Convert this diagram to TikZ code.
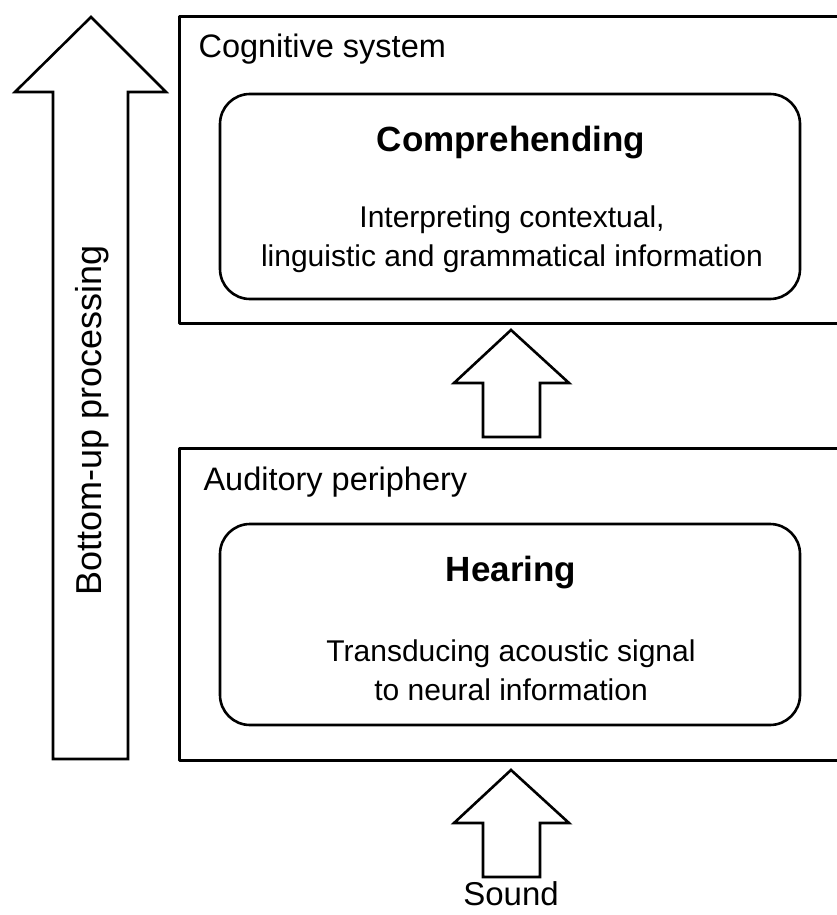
\documentclass[tikz,border=0pt]{standalone}
\usepackage{fontspec}
\setmainfont{Liberation Sans}
\usetikzlibrary{positioning}
\tikzset{
  frame/.style={draw, line width=2.6pt, anchor=north west, inner sep=0pt},
  stage/.style={draw, line width=2.6pt, rounded corners=30pt, inner sep=0pt},
  fat arrow/.style={draw, line width=2.6pt, line join=miter, fill=white},
  caption/.style={font=\fontsize{32.5}{38}\selectfont, anchor=west},
  title/.style={font=\fontsize{35}{42}\selectfont\bfseries},
  body/.style={font=\fontsize{30}{39}\selectfont, align=center}
}

\begin{document}
\begin{tikzpicture}[line cap=round, line join=round, x=1pt, y=-1pt]
	\useasboundingbox (0,0) rectangle (837,915);
	\clip (0,0) rectangle (837,915);
	% outer systems
	\node[frame, minimum width=720pt, minimum height=307pt] (cog) at (178,15) {};
	\node[frame, minimum width=720pt, minimum height=312pt] (aud) at (178,447) {};
	\node[caption] (coglabel) at (195,49) {Cognitive system};
	\node[caption] (audlabel) at (200,482) {Auditory periphery};
	% stages
	\node[stage, minimum width=580pt, minimum height=205pt] (comp) at (510,196.5) {};
	\node[stage, minimum width=580pt, minimum height=201pt] (hear) at (510,624.5) {};
	\node[title] (comptitle) at (511,143) {Comprehending};
	\node[title] (heartitle) at (511,573) {Hearing};
	\node[body] (comptext) at (512,239) {Interpreting contextual,\\ linguistic and grammatical information};
	\node[body] (heartext) at (511,670) {Transducing acoustic signal\\ to neural information};
	% block arrows
	\draw[fat arrow] (53,759) -- (53,92) -- (15,92) -- (91,17) -- (166,92) -- (128,92) -- (128,759) -- cycle;
	\node[font=\fontsize{36}{42}\selectfont, rotate=90] (bottomup) at (92,420) {Bottom-up processing};
	\foreach \dy in {0,440}
	\draw[fat arrow, shift={(0,\dy)}] (483,437) -- (483,383) -- (454,383) -- (511,330) -- (569,383) -- (540,383) -- (540,437) -- cycle;
	\node[font=\fontsize{33}{40}\selectfont] (sound) at (511,894) {Sound};
\end{tikzpicture}
\end{document}
